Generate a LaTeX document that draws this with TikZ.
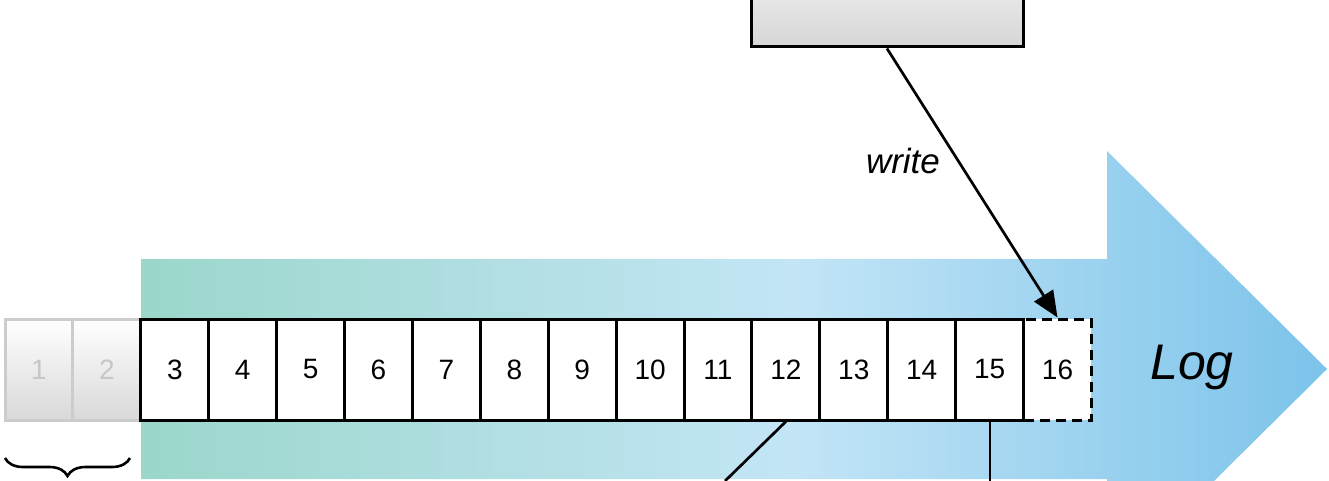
\documentclass[tikz,border=0pt]{standalone}
\usepackage{fontspec}
\setmainfont{Liberation Sans}
\usetikzlibrary{arrows.meta,decorations.pathreplacing}
\definecolor{logteal}{HTML}{9BD7CB}
\definecolor{loglight}{HTML}{C3E5F6}
\definecolor{logblue}{HTML}{7CC3EA}
\pgfdeclarehorizontalshading{logshade}{100bp}{color(0bp)=(logteal); color(25bp)=(logteal); color(52.5bp)=(loglight); color(75bp)=(logblue); color(100bp)=(logblue)}
\tikzset{
  entry/.style={draw, line width=3pt, fill=white, minimum width=67.9pt, minimum height=101pt,
    inner sep=0pt, font=\fontsize{28}{32}\selectfont},
  oldentry/.style={entry, draw=black!20, top color=white, bottom color=black!15, text=black!22},
  newentry/.style={entry, dash pattern=on 10pt off 6pt},
  link/.style={line width=2.7pt}
}
\begin{document}
\begin{tikzpicture}[x=1pt,y=-1pt]
		\useasboundingbox (0,0) rectangle (1329,481);
		\clip (0,0) rectangle (1329,481);
		\shade[shading=logshade] (141,259) -- (1107,259) -- (1107,151) -- (1327,369) -- (1107,587) -- (1107,479) -- (141,479) -- cycle;
		\node[font=\itshape\fontsize{50}{56}\selectfont] (logname) at (1192,367) {Log};
		\foreach \i in {1,2}
		{
			\node[oldentry] (c\i) at ({39+67.9*(\i-1)},369.5) {\i};
		}
		\node[newentry] (c16) at ({39+67.9*15},369.5) {16};
		\foreach \i in {3,...,15}
		{
			\node[entry] (c\i) at ({39+67.9*(\i-1)},369.5) {\i};
		}
		\node[draw, line width=3pt, top color=black!6, bottom color=black!16, minimum width=272pt, minimum height=80pt] (writer) at (887,7) {};
		\draw[link,-{Triangle[length=26pt,width=22pt]}] (writer.south) -- (c16.north) node[pos=0.42, left=14pt, font=\itshape\fontsize{35}{40}\selectfont] {write};
		\coordinate (c12end) at (725,481);
		\coordinate (c15end) at (c15.south |- 0,481);
		\draw[link] (c12.south) -- (c12end);
		\draw[line width=2pt] (c15.south) -- (c15end);
		\draw[line width=2.6pt, decorate, decoration={brace, mirror, amplitude=18pt}] (5,458) -- (130,458);
		\end{tikzpicture}
\end{document}
